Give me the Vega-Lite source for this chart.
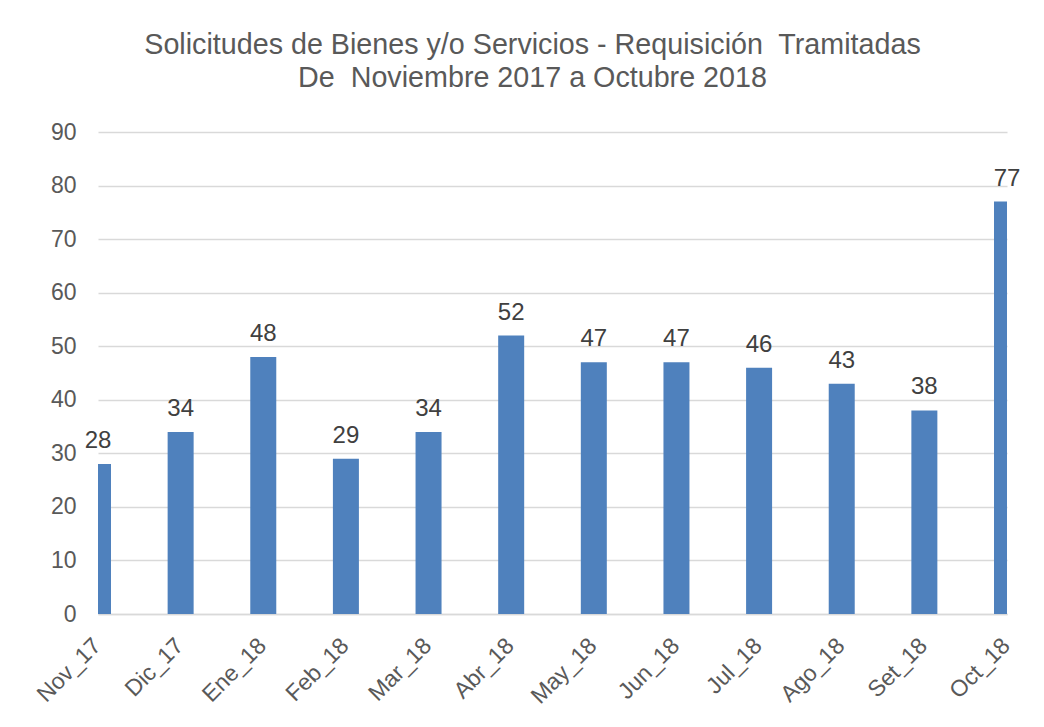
{
  "$schema": "https://vega.github.io/schema/vega-lite/v6.json",
  "width": 909,
  "height": 482,
  "autosize": {"type": "none"},
  "padding": {"left": 98, "top": 132, "right": 37, "bottom": 113},
  "background": "white",
  "title": {
    "text": ["Solicitudes de Bienes y/o Servicios - Requisición\u00a0 Tramitadas", "De\u00a0 Noviembre 2017 a Octubre 2018"],
    "anchor": "middle",
    "dx": -20,
    "offset": 28,
    "font": "Liberation Sans",
    "fontSize": 28.7,
    "fontWeight": "normal",
    "color": "#595959",
    "lineHeight": 33.5
  },
  "config": {
    "view": {"stroke": null},
    "font": "Liberation Sans"
  },
  "data": {
    "values": [
      {"mes": "Nov_17", "valor": 28},
      {"mes": "Dic_17", "valor": 34},
      {"mes": "Ene_18", "valor": 48},
      {"mes": "Feb_18", "valor": 29},
      {"mes": "Mar_18", "valor": 34},
      {"mes": "Abr_18", "valor": 52},
      {"mes": "May_18", "valor": 47},
      {"mes": "Jun_18", "valor": 47},
      {"mes": "Jul_18", "valor": 46},
      {"mes": "Ago_18", "valor": 43},
      {"mes": "Set_18", "valor": 38},
      {"mes": "Oct_18", "valor": 77}
    ]
  },
  "encoding": {
    "x": {
      "field": "mes",
      "type": "ordinal",
      "sort": null,
      "scale": {"type": "point", "padding": 0},
      "axis": {
        "title": null,
        "labelAngle": -45,
        "labelAlign": "right",
        "labelBaseline": "top",
        "labelOffset": -9,
        "labelFont": "Liberation Sans",
        "labelFontSize": 23,
        "labelColor": "#595959",
        "labelPadding": 20,
        "ticks": false,
        "domain": true,
        "domainColor": "#d9d9d9",
        "domainWidth": 1.5,
        "grid": false
      }
    },
    "y": {
      "field": "valor",
      "type": "quantitative",
      "scale": {"domain": [0, 90], "nice": false},
      "axis": {
        "title": null,
        "values": [0, 10, 20, 30, 40, 50, 60, 70, 80, 90],
        "labelFont": "Liberation Sans",
        "labelFontSize": 23,
        "labelColor": "#595959",
        "labelPadding": 22,
        "ticks": false,
        "domain": false,
        "grid": true,
        "gridColor": "#d9d9d9",
        "gridWidth": 1.5
      }
    }
  },
  "layer": [
    {
      "mark": {"type": "bar", "width": 26, "color": "#4f81bd", "clip": true}
    },
    {
      "mark": {
        "type": "text",
        "baseline": "alphabetic",
        "dy": -16,
        "font": "Liberation Sans",
        "fontSize": 24,
        "color": "#404040"
      },
      "encoding": {"text": {"field": "valor", "type": "quantitative"}}
    }
  ]
}
